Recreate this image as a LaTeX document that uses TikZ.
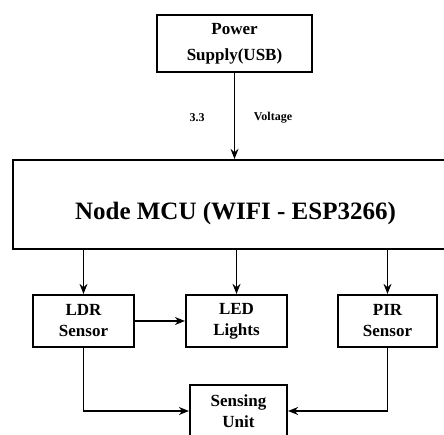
\documentclass[tikz,border=0pt]{standalone}
\usepackage{fontspec}
\setmainfont{Liberation Serif}
\usetikzlibrary{arrows.meta}

\tikzset{
  blockbox/.style={draw=black,line width=2.2pt,align=center,font=\bfseries\fontsize{17}{21}\selectfont,inner sep=0pt},
  flowline/.style={draw=black,line width=1.5pt,-{Stealth[length=10pt,width=8pt]}},
  smalltext/.style={font=\bfseries\fontsize{12}{14}\selectfont,inner sep=0pt}
}

\begin{document}
\begin{tikzpicture}[x=1pt,y=1pt]
\useasboundingbox (0,0) rectangle (444,434);

% blocks:
\node[blockbox,minimum width=155pt,minimum height=57pt,font=\bfseries\fontsize{17}{26}\selectfont] (power) at (234.5,390.5) {Power\\Supply(USB)};
\node[blockbox,minimum width=445pt,minimum height=89pt,font=\bfseries\fontsize{25}{28}\selectfont,text height=30pt,text depth=0pt] (mcu) at (235.5,229.5) {Node MCU (WIFI - ESP3266)};
\node[blockbox,minimum width=101pt,minimum height=52pt] (ldr) at (83.5,113) {LDR\\Sensor};
\node[blockbox,minimum width=101pt,minimum height=52pt] (led) at (236.5,113) {LED\\Lights};
\node[blockbox,minimum width=99pt,minimum height=52pt] (pir) at (387.5,113) {PIR\\Sensor};
\node[blockbox,minimum width=97pt,minimum height=52pt] (sense) at (238.5,23) {Sensing\\Unit};

% supply labels:
\node[smalltext] (volts) at (197,316) {3.3};
\node[smalltext] (voltage) at (273,316) {Voltage};

% connectors:
\draw[flowline] (power.south) -- (mcu.north -| power.south);
\draw[flowline] (mcu.south -| ldr.north) -- (ldr.north);
\draw[flowline] (mcu.south -| led.north) -- (led.north);
\draw[flowline] (mcu.south -| pir.north) -- (pir.north);
\draw[flowline] (ldr.east) -- (led.west);
\draw[flowline] (ldr.south) |- (sense.west);
\draw[flowline] (pir.south) |- (sense.east);

\end{tikzpicture}
\end{document}
